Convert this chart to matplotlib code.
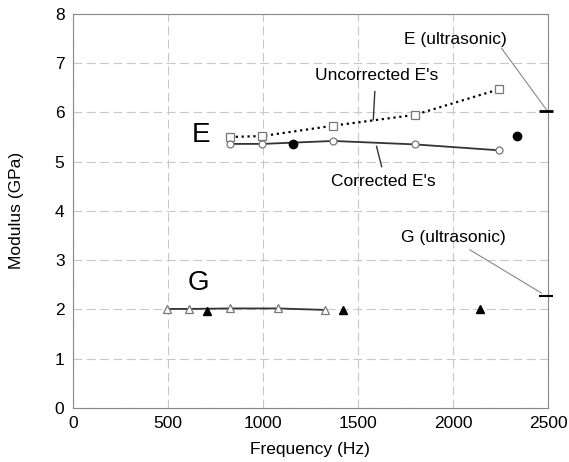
import matplotlib
matplotlib.use('Agg')
import matplotlib.pyplot as plt

# ==========================================
# data
# ==========================================
freq_e = [826, 998, 1370, 1800, 2243]
e_uncorr = [5.50, 5.52, 5.73, 5.95, 6.47]
e_corr = [5.36, 5.36, 5.42, 5.35, 5.23]
freq_e_fill = [1156, 2335]
e_fill = [5.36, 5.52]
e_ultra = 6.03

freq_g = [496, 609, 826, 1081, 1326]
g_open = [2.01, 2.01, 2.02, 2.02, 1.99]
freq_g_fill = [704, 1423, 2142]
g_fill = [1.97, 1.99, 2.01]
g_ultra = 2.27

plt.rcParams['font.family'] = ['Liberation Sans', 'DejaVu Sans']
fs = 12.5

fig = plt.figure(figsize=(5.69, 4.62), dpi=100)
ax = fig.add_axes([0.128, 0.117, 0.835, 0.853])

# E curves
ax.plot(freq_e, e_uncorr, ':', color='black', lw=1.6, marker='s', ms=5.5,
        mfc='white', mec='#777777', mew=0.9, zorder=3)
ax.plot(freq_e, e_corr, '-', color='#333333', lw=1.3, marker='o', ms=5,
        mfc='white', mec='#777777', mew=0.9, zorder=3)
ax.plot(freq_e_fill, e_fill, 'o', color='black', ms=6, zorder=4)

# G curves
ax.plot(freq_g, g_open, '-', color='#333333', lw=1.3, marker='^', ms=6,
        mfc='white', mec='#777777', mew=0.9, zorder=3)
ax.plot(freq_g_fill, g_fill, '^', color='black', ms=5.5, zorder=4)

# ultrasonic markers at the right edge
ax.plot([2490], [e_ultra], marker='_', color='black', ms=10, mew=2, clip_on=False, zorder=5)
ax.plot([2490], [g_ultra], marker='_', color='black', ms=10, mew=1.5, clip_on=False, zorder=5)

# labels and leader lines
ax.text(2013, 7.47, 'E (ultrasonic)', ha='center', va='center', fontsize=fs)
ax.plot([2256, 2493], [7.30, 6.05], color='#888888', lw=0.8)
ax.text(1598, 6.74, "Uncorrected E's", ha='center', va='center', fontsize=fs)
ax.plot([1589, 1581], [6.42, 5.85], color='#333333', lw=1)
ax.text(1633, 4.60, "Corrected E's", ha='center', va='center', fontsize=fs)
ax.plot([1598, 1625], [5.31, 4.90], color='#333333', lw=1)
ax.text(2002, 3.45, 'G (ultrasonic)', ha='center', va='center', fontsize=fs)
ax.plot([2089, 2467], [3.21, 2.33], color='#888888', lw=0.8)
ax.text(677, 5.54, 'E', ha='center', va='center', fontsize=20)
ax.text(660, 2.53, 'G', ha='center', va='center', fontsize=20)

ax.set_xlim(0, 2500)
ax.set_ylim(0, 8)
ax.set_xticks([0, 500, 1000, 1500, 2000, 2500])
ax.set_yticks(range(0, 9))
ax.tick_params(labelsize=fs, length=0, pad=6)
ax.grid(True, linestyle=(0, (8, 4)), color='#c8c8c8', lw=0.8)
for s in ax.spines.values():
    s.set_color('#888888')
ax.set_xlabel('Frequency (Hz)', fontsize=fs, labelpad=8)
ax.set_ylabel('Modulus (GPa)', fontsize=fs, labelpad=22)

plt.savefig('out.png', dpi=100)
